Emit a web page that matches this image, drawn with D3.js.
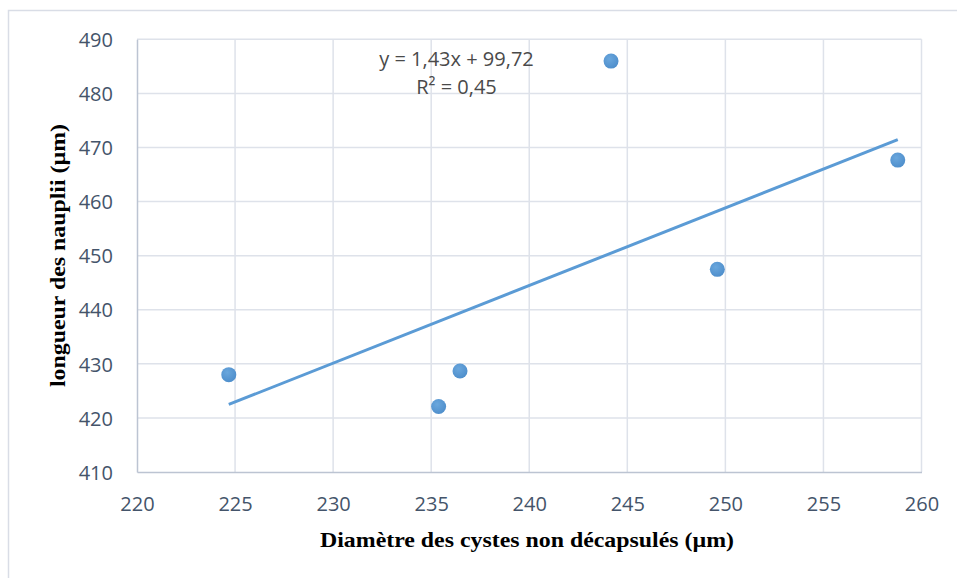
<!DOCTYPE html>
<html>
<head>
<meta charset="utf-8">
<script src="https://cdn.jsdelivr.net/npm/d3@7"></script>
<style>
  html, body { margin: 0; padding: 0; background: #fff; }
  svg { display: block; }
</style>
</head>
<body>
<svg id="chart" width="957" height="578"></svg>
<script>
// Data
const diametre = [224.68, 235.38, 236.47, 244.17, 249.59, 258.79];
const longueur = [428.0, 422.1, 428.67, 485.97, 447.47, 467.67];
const xTicks = [220, 225, 230, 235, 240, 245, 250, 255, 260];
const yTicks = [410, 420, 430, 440, 450, 460, 470, 480, 490];
const equationLines = ["y = 1,43x + 99,72", "R² = 0,45"];
const xTitle = "Diamètre des cystes non décapsulés (µm)";
const yTitle = "longueur des nauplii (µm)";

(function () {
const svg = d3.select("#chart");
const pL = 137, pR = 921.5, pT = 39.3, pB = 472;

const x = d3.scaleLinear().domain([220, 260]).range([pL, pR]);
const y = d3.scaleLinear().domain([410, 490]).range([pB, pT]);

// outer frame
svg.append("rect")
  .attr("x", 8.5).attr("y", 10.5)
  .attr("width", 1000).attr("height", 700)
  .attr("fill", "none").attr("stroke", "#d9dde6").attr("stroke-width", 1.5);

// gridlines
svg.append("g").selectAll("line").data(xTicks.slice(1)).join("line")
  .attr("x1", d => x(d)).attr("x2", d => x(d))
  .attr("y1", pT).attr("y2", pB)
  .attr("stroke", "#dee2ea").attr("stroke-width", 1.5);
svg.append("g").selectAll("line").data(yTicks.slice(1)).join("line")
  .attr("x1", pL).attr("x2", pR)
  .attr("y1", d => y(d)).attr("y2", d => y(d))
  .attr("stroke", "#dee2ea").attr("stroke-width", 1.5);

// axes
const xAxis = svg.append("g").attr("transform", `translate(0,${pB})`)
  .call(d3.axisBottom(x).tickValues(xTicks).tickSize(0).tickPadding(24));
const yAxis = svg.append("g").attr("transform", `translate(${pL},0)`)
  .call(d3.axisLeft(y).tickValues(yTicks).tickSize(0).tickPadding(24));
[xAxis, yAxis].forEach(a => {
  a.select(".domain").attr("stroke", "#bcc4d2").attr("stroke-width", 1.5);
  a.selectAll("text")
    .attr("font-family", "'Open Sans', sans-serif")
    .attr("font-size", 20)
    .attr("fill", "#44546a");
});
xAxis.selectAll("text").attr("dy", null).attr("y", 38.7);
yAxis.selectAll("text").attr("dy", "0.36em");

// trendline (least squares)
const n = diametre.length;
const mx = d3.mean(diametre), my = d3.mean(longueur);
let sxy = 0, sxx = 0;
for (let i = 0; i < n; i++) {
  sxy += (diametre[i] - mx) * (longueur[i] - my);
  sxx += (diametre[i] - mx) ** 2;
}
const slope = sxy / sxx, intercept = my - slope * mx;
const xmin = d3.min(diametre), xmax = d3.max(diametre);
svg.append("line")
  .attr("x1", x(xmin)).attr("y1", y(slope * xmin + intercept))
  .attr("x2", x(xmax)).attr("y2", y(slope * xmax + intercept))
  .attr("stroke", "#5b9bd5").attr("stroke-width", 3);

// points
const grad = svg.append("defs").append("radialGradient")
  .attr("id", "pg").attr("cx", "40%").attr("cy", "35%").attr("r", "65%");
grad.append("stop").attr("offset", "0%").attr("stop-color", "#6aa7dd");
grad.append("stop").attr("offset", "100%").attr("stop-color", "#4f8fcc");
svg.append("g").selectAll("circle").data(diametre).join("circle")
  .attr("cx", d => x(d))
  .attr("cy", (d, i) => y(longueur[i]))
  .attr("r", 7.5)
  .attr("fill", "url(#pg)");

// equation
svg.append("g").selectAll("text").data(equationLines).join("text")
  .attr("x", 456.5)
  .attr("y", (d, i) => 65.7 + i * 28.3)
  .attr("text-anchor", "middle")
  .attr("font-family", "'Open Sans', sans-serif")
  .attr("font-size", 20)
  .attr("fill", "#4a4a4a")
  .text(d => d);

// axis titles
svg.append("text")
  .attr("x", 527).attr("y", 547)
  .attr("text-anchor", "middle")
  .attr("font-family", "'Liberation Serif', 'Times New Roman', serif")
  .attr("font-weight", "bold")
  .attr("font-size", 22)
  .attr("textLength", 414).attr("lengthAdjust", "spacingAndGlyphs")
  .attr("fill", "#000")
  .text(xTitle);

svg.append("text")
  .attr("transform", "translate(65,255.5) rotate(-90)")
  .attr("text-anchor", "middle")
  .attr("font-family", "'Liberation Serif', 'Times New Roman', serif")
  .attr("font-weight", "bold")
  .attr("font-size", 22)
  .attr("textLength", 263).attr("lengthAdjust", "spacingAndGlyphs")
  .attr("fill", "#000")
  .text(yTitle);
})();
</script>
</body>
</html>
